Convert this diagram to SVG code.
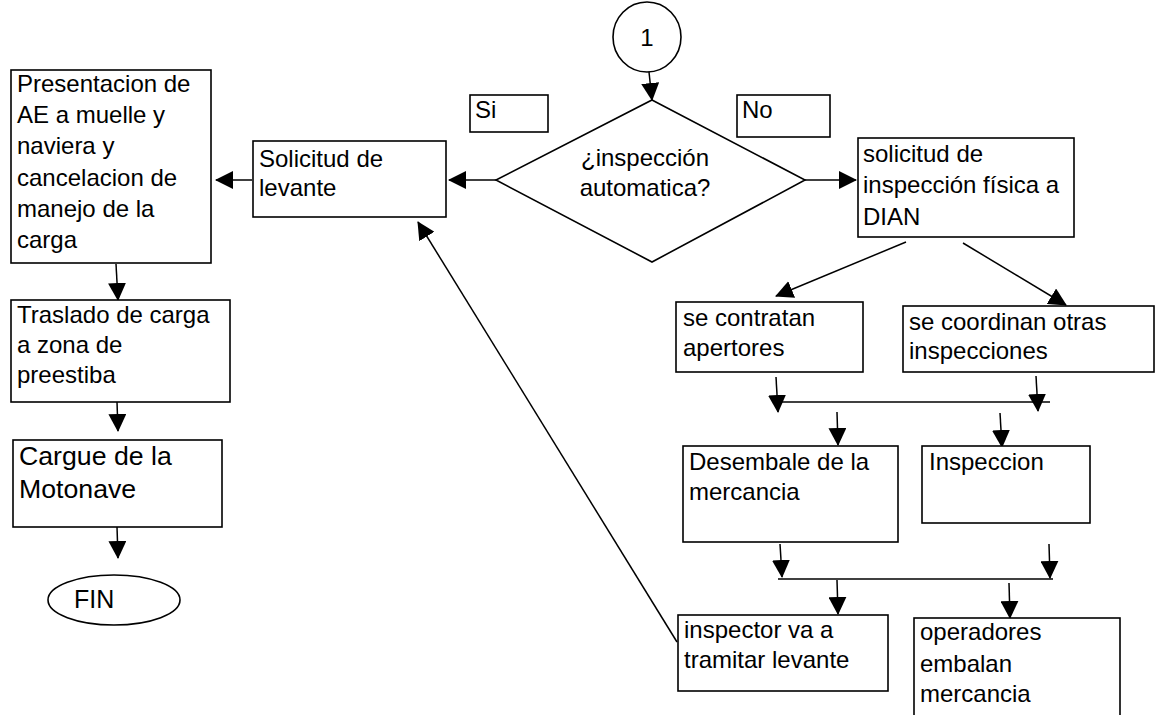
<svg xmlns="http://www.w3.org/2000/svg" width="1156" height="715" viewBox="0 0 1156 715">
<style>
.b{fill:#fff;stroke:#000;stroke-width:1.6}
.t{font-family:"Liberation Sans",Arial,sans-serif;font-size:24px;fill:#000}
.c{stroke:#000;stroke-width:1.5;fill:none}
</style>
<defs>
<marker id="ah" markerUnits="userSpaceOnUse" markerWidth="18" markerHeight="18" refX="17" refY="9" orient="auto">
<path d="M0,0 L18,9 L0,18 z" fill="#000"/>
</marker>
</defs>
<rect width="1156" height="715" fill="#fff"/>
<g id="connectors">
<line class="c" x1="649" y1="72" x2="652" y2="100" marker-end="url(#ah)"/>
<line class="c" x1="496" y1="180" x2="449" y2="180" marker-end="url(#ah)"/>
<line class="c" x1="252" y1="180" x2="216" y2="180" marker-end="url(#ah)"/>
<line class="c" x1="805" y1="180" x2="856" y2="180" marker-end="url(#ah)"/>
<line class="c" x1="906" y1="242" x2="776" y2="296" marker-end="url(#ah)"/>
<line class="c" x1="963" y1="243" x2="1066" y2="305" marker-end="url(#ah)"/>
<line class="c" x1="776" y1="377" x2="778" y2="412" marker-end="url(#ah)"/>
<line class="c" x1="1036" y1="376" x2="1038" y2="411" marker-end="url(#ah)"/>
<line class="c" x1="776" y1="402" x2="1050" y2="402"/>
<line class="c" x1="837" y1="412" x2="838" y2="445" marker-end="url(#ah)"/>
<line class="c" x1="1000" y1="413" x2="1002" y2="447" marker-end="url(#ah)"/>
<line class="c" x1="780" y1="544" x2="782" y2="577" marker-end="url(#ah)"/>
<line class="c" x1="1049" y1="544" x2="1050" y2="578" marker-end="url(#ah)"/>
<line class="c" x1="778" y1="579" x2="1053" y2="579"/>
<line class="c" x1="837" y1="580" x2="838" y2="614" marker-end="url(#ah)"/>
<line class="c" x1="1009" y1="583" x2="1010" y2="618" marker-end="url(#ah)"/>
<line class="c" x1="677" y1="642" x2="418" y2="222" marker-end="url(#ah)"/>
<line class="c" x1="116" y1="264" x2="118" y2="300" marker-end="url(#ah)"/>
<line class="c" x1="117" y1="402" x2="118" y2="431" marker-end="url(#ah)"/>
<line class="c" x1="117" y1="527" x2="118" y2="558" marker-end="url(#ah)"/>
</g>
<g id="n-start">
<ellipse class="b" cx="647" cy="37" rx="34" ry="35"/>
<text class="t" x="647" y="46" text-anchor="middle">1</text>
</g>
<g id="n-decision">
<polygon class="b" points="652,100 805,180 652,262 496,180"/>
<text class="t" x="645" y="166" text-anchor="middle">¿inspección</text>
<text class="t" x="645" y="196" text-anchor="middle">automatica?</text>
</g>
<g id="n-si">
<rect class="b" x="470" y="95" width="78" height="37"/>
<text class="t" x="475" y="118">Si</text>
</g>
<g id="n-no">
<rect class="b" x="737" y="95" width="93" height="42"/>
<text class="t" x="742" y="118">No</text>
</g>
<g id="n-solicitud-levante">
<rect class="b" x="253" y="141" width="193" height="76"/>
<text class="t" x="259" y="167">Solicitud de</text>
<text class="t" x="259" y="196">levante</text>
</g>
<g id="n-presentacion">
<rect class="b" x="11" y="70" width="200" height="193"/>
<text class="t" x="17" y="92">Presentacion de</text>
<text class="t" x="17" y="123">AE a muelle y</text>
<text class="t" x="17" y="154">naviera y</text>
<text class="t" x="17" y="186">cancelacion de</text>
<text class="t" x="17" y="217">manejo de la</text>
<text class="t" x="17" y="248">carga</text>
</g>
<g id="n-traslado">
<rect class="b" x="11" y="300" width="219" height="102"/>
<text class="t" x="17" y="323">Traslado de carga</text>
<text class="t" x="17" y="353">a zona de</text>
<text class="t" x="17" y="383">preestiba</text>
</g>
<g id="n-cargue">
<rect class="b" x="13" y="440" width="209" height="87"/>
<text class="t" x="19" y="465" style="font-size:26.7px">Cargue de la</text>
<text class="t" x="19" y="498" style="font-size:26.7px">Motonave</text>
</g>
<g id="n-fin">
<ellipse class="b" cx="114" cy="600" rx="66" ry="25"/>
<text class="t" x="74" y="608" style="font-size:25px">FIN</text>
</g>
<g id="n-solicitud-inspeccion">
<rect class="b" x="858" y="138" width="216" height="99"/>
<text class="t" x="863" y="162">solicitud de</text>
<text class="t" x="863" y="193">inspección física a</text>
<text class="t" x="863" y="225">DIAN</text>
</g>
<g id="n-contratan">
<rect class="b" x="676" y="302" width="187" height="70"/>
<text class="t" x="683" y="326">se contratan</text>
<text class="t" x="683" y="356">apertores</text>
</g>
<g id="n-coordinan">
<rect class="b" x="903" y="306" width="251" height="66"/>
<text class="t" x="909" y="330">se coordinan otras</text>
<text class="t" x="909" y="359">inspecciones</text>
</g>
<g id="n-desembale">
<rect class="b" x="683" y="446" width="215" height="96"/>
<text class="t" x="689" y="470">Desembale de la</text>
<text class="t" x="689" y="500">mercancia</text>
</g>
<g id="n-inspeccion">
<rect class="b" x="922" y="446" width="168" height="77"/>
<text class="t" x="929" y="470">Inspeccion</text>
</g>
<g id="n-inspector">
<rect class="b" x="678" y="615" width="210" height="76"/>
<text class="t" x="684" y="638">inspector va a</text>
<text class="t" x="684" y="668">tramitar levante</text>
</g>
<g id="n-operadores">
<rect class="b" x="914" y="618" width="206" height="100"/>
<text class="t" x="920" y="640">operadores</text>
<text class="t" x="920" y="672">embalan</text>
<text class="t" x="920" y="702">mercancia</text>
</g>
</svg>
